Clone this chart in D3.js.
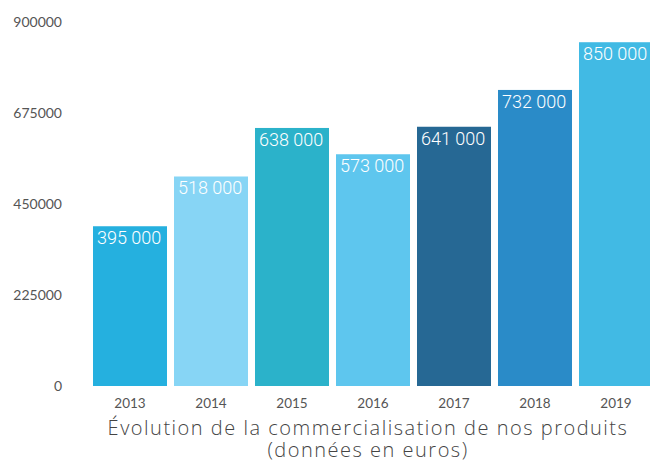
<!DOCTYPE html>
<html>
<head>
<meta charset="utf-8">
<script src="https://cdn.jsdelivr.net/npm/d3@7"></script>
<style>
  body { margin: 0; background: #fff; overflow: hidden; }
  svg { display: block; }
</style>
</head>
<body>
<svg id="chart"></svg>
<script>
let width = 650;
let height = 462;

let years = ["2013", "2014", "2015", "2016", "2017", "2018", "2019"];
let values = [395000, 518000, 638000, 573000, 641000, 732000, 850000];
let colors = ["#25b0df", "#87d5f5", "#2bb2ca", "#5ec6ee", "#266894", "#2a8bc8", "#41bae4"];
let yTicks = [0, 225000, 450000, 675000, 900000];
let title = ["Évolution de la commercialisation de nos produits", "(données en euros)"];

let svg = d3.select("#chart")
    .attr("width", width)
    .attr("height", height);

// 7 bars, 74px wide, 7px gaps, last one runs off the right edge
let x = d3.scaleBand()
    .domain(years)
    .range([93, 653])
    .paddingInner(7 / 81)
    .paddingOuter(0);

let y = d3.scaleLinear()
    .domain([0, 900000])
    .range([386, 22]);

// y axis labels
svg.append("g")
    .attr("transform", "translate(62,0)")
    .call(d3.axisLeft(y).tickValues(yTicks).tickSize(0).tickPadding(0).tickFormat(d3.format("d")))
    .call(g => g.select(".domain").remove())
    .call(g => g.selectAll("text")
        .attr("fill", "#555")
        .style("font-family", "Lato, sans-serif")
        .style("font-size", "14px"));

// bars
svg.append("g").selectAll("rect")
    .data(years)
    .join("rect")
    .attr("x", d => x(d))
    .attr("y", (d, i) => y(values[i]))
    .attr("width", x.bandwidth())
    .attr("height", (d, i) => y(0) - y(values[i]))
    .attr("fill", (d, i) => colors[i]);

// value labels
svg.append("g").selectAll("text")
    .data(years)
    .join("text")
    .attr("x", d => x(d) + 4)
    .attr("y", (d, i) => y(values[i]) + 18)
    .attr("fill", "#fff")
    .style("font-family", "Roboto, sans-serif")
    .style("font-size", "18px")
    .style("font-weight", 300)
    .text((d, i) => d3.format(",")(values[i]).replace(/,/g, " "));

// x axis labels
svg.append("g")
    .attr("transform", "translate(0,398)")
    .call(d3.axisBottom(x).tickSize(0).tickPadding(0))
    .call(g => g.select(".domain").remove())
    .call(g => g.selectAll("text")
        .attr("fill", "#555")
        .style("font-family", "Lato, sans-serif")
        .style("font-size", "13.5px"));

// title
svg.append("g").selectAll("text")
    .data(title)
    .join("text")
    .attr("x", 368)
    .attr("y", (d, i) => 435 + i * 22)
    .attr("text-anchor", "middle")
    .attr("fill", "#444")
    .style("font-family", "'Open Sans', sans-serif")
    .style("font-size", "20px")
    .style("font-weight", 300)
    .style("letter-spacing", "1.5px")
    .text(d => d);
</script>
</body>
</html>
